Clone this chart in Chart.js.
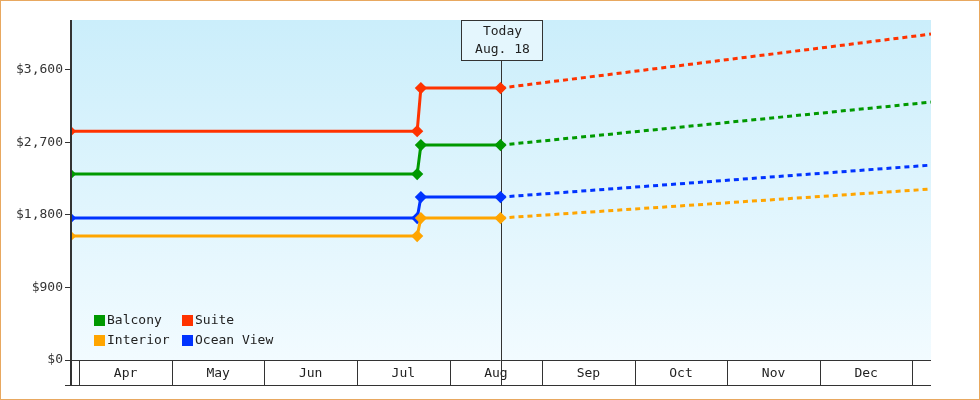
<!DOCTYPE html>
<html><head><meta charset="utf-8">
<script src="https://cdn.jsdelivr.net/npm/chart.js@4"></script>
<style>
body{margin:0;background:#fff}
#wrap{width:978px;height:398px;border:1px solid #e8a860;position:relative}
</style></head>
<body><div id="wrap"><canvas id="c" width="978" height="398"></canvas></div>
<script>
// month positions: Apr = 0, fractions for days
const months = ['Apr','May','Jun','Jul','Aug','Sep','Oct','Nov','Dec']
const actualX = [-0.1, 3.65, 3.69, 4.55]     // Mar 28, Jul 21, Jul 22, Aug 18
const forecastX = [4.55, 9.2]                 // Aug 18 -> early Jan
const series = ['Balcony','Suite','Interior','Ocean View']
const colors = ['#009900','#ff3300','#ffa500','#0033ff']
const actual = [
    [2308, 2308, 2667, 2667],
    [2840, 2840, 3375, 3375],
    [1538, 1538, 1762, 1762],
    [1762, 1762, 2022, 2022],
]
const forecast = [
    [2667, 3201],
    [3375, 4045],
    [1762, 2122],
    [2022, 2419],
]
const yTicks = [0, 900, 1800, 2700, 3600]
const todayX = 4.55
const font = '13px "DejaVu Sans Mono"'

const datasets = []
series.forEach((name, i) => {
    datasets.push({
        label: name, borderColor: colors[i], backgroundColor: colors[i],
        data: actualX.map((x, j) => ({x, y: actual[i][j]})),
        borderWidth: 3, pointStyle: 'rectRot', pointRadius: 4, tension: 0
    })
    datasets.push({
        label: name + ' forecast', borderColor: colors[i],
        data: forecastX.map((x, j) => ({x, y: forecast[i][j]})),
        borderWidth: 3, borderDash: [5, 4], pointRadius: 0, tension: 0
    })
})

const deco = {
    id: 'deco',
    beforeDatasetsDraw(chart) {
        const {ctx, chartArea: a} = chart
        const g = ctx.createLinearGradient(0, a.top, 0, a.bottom)
        g.addColorStop(0, '#cbeefb')
        g.addColorStop(1, '#f2fbff')
        ctx.fillStyle = g
        ctx.fillRect(a.left, a.top, a.right - a.left, a.bottom - a.top)
        // today line
        const xs = chart.scales.x
        const tx = Math.round(xs.getPixelForValue(todayX)) + 0.5
        ctx.strokeStyle = '#333'; ctx.lineWidth = 1
        ctx.beginPath(); ctx.moveTo(tx, a.top); ctx.lineTo(tx, a.bottom + 25); ctx.stroke()
    },
    afterDraw(chart) {
        const {ctx, chartArea: a} = chart
        const xs = chart.scales.x
        ctx.save()
        ctx.font = font; ctx.fillStyle = '#222'; ctx.textAlign = 'center'; ctx.textBaseline = 'middle'
        // x axis cells
        ctx.strokeStyle = '#333'; ctx.lineWidth = 1
        ctx.beginPath()
        ctx.moveTo(a.left, a.bottom + 0.5); ctx.lineTo(a.right, a.bottom + 0.5)
        ctx.moveTo(a.left - 5, a.bottom + 25.5); ctx.lineTo(a.right, a.bottom + 25.5)
        for (let m = 0; m <= months.length; m++) {
            const px = Math.round(xs.getPixelForValue(m)) + 0.5
            ctx.moveTo(px, a.bottom); ctx.lineTo(px, a.bottom + 25)
        }
        ctx.stroke()
        months.forEach((m, i) => ctx.fillText(m, xs.getPixelForValue(i + 0.5), a.bottom + 14))
        // left axis line
        ctx.lineWidth = 2
        ctx.beginPath(); ctx.moveTo(a.left + 1, a.top); ctx.lineTo(a.left + 1, a.bottom + 25); ctx.stroke()
        // today box
        const tx = Math.round(xs.getPixelForValue(todayX)) + 0.5
        ctx.lineWidth = 1
        ctx.fillStyle = '#e4f6fd'
        ctx.fillRect(tx - 40, a.top, 81, 40)
        ctx.strokeRect(tx - 40, a.top + 0.5, 81, 40)
        ctx.fillStyle = '#222'
        ctx.fillText('Today', tx + 1, a.top + 12)
        ctx.fillText('Aug. 18', tx + 1, a.top + 30)
        // legend
        ctx.textAlign = 'left'
        const pos = [[93, 320], [181, 320], [93, 340], [181, 340]]
        series.forEach((s, i) => {
            const [lx, ly] = pos[i]
            ctx.fillStyle = colors[i]; ctx.fillRect(lx, ly - 6, 11, 11)
            ctx.fillStyle = '#222'; ctx.fillText(s, lx + 13, ly)
        })
        ctx.restore()
    }
}

new Chart(document.getElementById('c'), {
    type: 'line',
    data: {datasets},
    options: {
        responsive: false, animation: false,
        layout: {padding: {top: 19, right: 48, left: 0, bottom: 0}},
        plugins: {legend: {display: false}, tooltip: {enabled: false}},
        scales: {
            x: {
                type: 'linear', min: -0.1, max: 9.2,
                grid: {display: false}, border: {display: false},
                ticks: {display: false},
                afterFit: s => { s.height = 39 }
            },
            y: {
                min: 0, max: 4220,
                afterBuildTicks: s => { s.ticks = yTicks.map(v => ({value: v})) },
                grid: {drawOnChartArea: false, tickLength: 5, color: '#333'},
                border: {display: false},
                ticks: {color: '#333', font: {family: 'DejaVu Sans Mono', size: 13}, padding: 2,
                        callback: v => '$' + v.toLocaleString('en-US')},
                afterFit: s => { s.width = 69 }
            }
        }
    },
    plugins: [deco]
})
</script></body></html>
